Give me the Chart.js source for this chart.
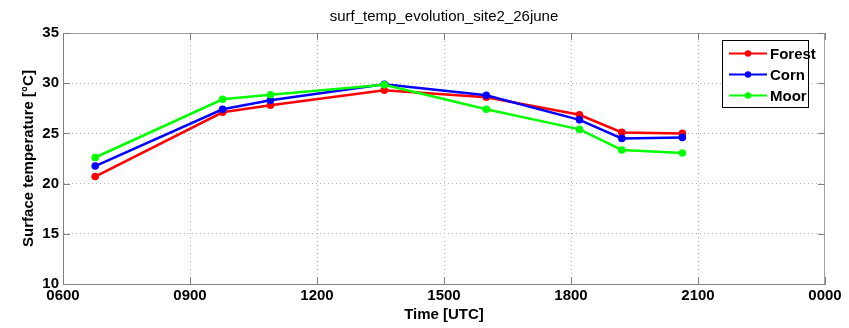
<!DOCTYPE html>
<html><head><meta charset="utf-8">
<script src="https://cdn.jsdelivr.net/npm/chart.js@4.4.1/dist/chart.umd.min.js"></script>
<style>html,body{margin:0;padding:0;background:#fff}#wrap{width:849px;height:328px}</style>
</head><body><div id="wrap"><canvas id="c" width="849" height="328"></canvas></div>
<script>
const chartTitle = 'surf_temp_evolution_site2_26june';
const xTitle = 'Time [UTC]';
const yTitle = 'Surface temperature [°C]';
const seriesNames = ['Forest', 'Corn', 'Moor'];
const seriesColors = ['#ff0000', '#0000ff', '#00ff00'];
const times = [6.76, 9.77, 10.9, 13.59, 16.0, 18.2, 19.2, 20.63];
const forest = [20.7, 27.1, 27.8, 29.3, 28.6, 26.85, 25.1, 25.0];
const corn = [21.75, 27.4, 28.3, 29.9, 28.8, 26.35, 24.5, 24.6];
const moor = [22.6, 28.4, 28.85, 29.85, 27.4, 25.4, 23.35, 23.05];
const xTicks = [6, 9, 12, 15, 18, 21, 24];
const yTicks = [10, 15, 20, 25, 30, 35];

const FONT = 'Arial, "Liberation Sans", sans-serif';
const allSeries = [forest, corn, moor];

function mk(i) {
  return {
    label: seriesNames[i],
    data: times.map((t, k) => ({x: t, y: allSeries[i][k]})),
    borderColor: seriesColors[i],
    backgroundColor: seriesColors[i],
    borderWidth: 2.5,
    pointRadius: 3.8,
    pointBorderWidth: 0,
    pointHoverRadius: 3.8,
    order: 3 - i,
    tension: 0
  };
}

const deco = {
  id: 'deco',
  afterDraw(chart) {
    const {ctx, chartArea: a, scales} = chart;
    ctx.save();
    ctx.strokeStyle = '#a0a0a0';
    ctx.lineWidth = 1;
    ctx.beginPath();
    ctx.moveTo(a.left, a.top + 0.5); ctx.lineTo(a.right, a.top + 0.5);
    ctx.moveTo(a.right - 0.5, a.top); ctx.lineTo(a.right - 0.5, a.bottom);
    ctx.stroke();
    ctx.strokeStyle = '#808080';
    ctx.beginPath();
    yTicks.forEach(v => {
      const y = Math.round(scales.y.getPixelForValue(v)) + 0.5;
      ctx.moveTo(a.left, y); ctx.lineTo(a.left + 7, y);
      ctx.moveTo(a.right, y); ctx.lineTo(a.right - 7, y);
    });
    xTicks.forEach(v => {
      const x = Math.round(scales.x.getPixelForValue(v)) + 0.5;
      ctx.moveTo(x, a.bottom); ctx.lineTo(x, a.bottom - 7);
      ctx.moveTo(x, a.top); ctx.lineTo(x, a.top + 7);
    });
    ctx.stroke();
    ctx.fillStyle = '#000';
    ctx.font = '15px ' + FONT;
    ctx.textAlign = 'center';
    ctx.textBaseline = 'middle';
    ctx.fillText(chartTitle, (a.left + a.right) / 2, 17);
    const lx = 722, ly = 40, lw = 86, lh = 67;
    ctx.fillStyle = '#fff';
    ctx.fillRect(lx, ly, lw, lh);
    ctx.strokeStyle = '#000';
    ctx.lineWidth = 1;
    ctx.strokeRect(lx + 0.5, ly + 0.5, lw, lh);
    ctx.font = 'bold 15px ' + FONT;
    ctx.textAlign = 'left';
    chart.data.datasets.forEach((ds, i) => {
      const y = ly + 13.5 + i * 21;
      ctx.strokeStyle = ds.borderColor;
      ctx.lineWidth = 2;
      ctx.beginPath(); ctx.moveTo(lx + 7, y); ctx.lineTo(lx + 45, y); ctx.stroke();
      ctx.fillStyle = ds.borderColor;
      ctx.beginPath(); ctx.arc(lx + 26, y, 3.2, 0, Math.PI * 2); ctx.fill();
      ctx.fillStyle = '#000';
      ctx.fillText(ds.label, lx + 48, y + 1);
    });
    ctx.restore();
  }
};

new Chart(document.getElementById('c'), {
  type: 'line',
  data: {datasets: [mk(0), mk(1), mk(2)]},
  plugins: [deco],
  options: {
    responsive: false,
    animation: false,
    layout: {padding: {top: 33, right: 24, left: 0, bottom: 0}},
    plugins: {legend: {display: false}, title: {display: false}, tooltip: {enabled: false}},
    scales: {
      x: {
        type: 'linear', min: 6, max: 24,
        afterBuildTicks: s => { s.ticks = xTicks.map(v => ({value: v})); },
        afterFit: s => { s.height = 44; },
        ticks: {
          color: '#000', padding: 3, maxRotation: 0, autoSkip: false,
          font: {family: FONT, size: 15, weight: 'bold'},
          callback: v => String((v % 24) * 100).padStart(4, '0')
        },
        grid: {
          color: c => (c.tick && (c.tick.value === 6 || c.tick.value === 24)) ? 'rgba(0,0,0,0)' : '#b4b4b4',
          drawTicks: false, lineWidth: 1
        },
        border: {display: true, color: '#808080', dash: [1, 3], width: 1},
        title: {display: true, text: xTitle, color: '#000', padding: {top: 0, bottom: 4},
          font: {family: FONT, size: 15, weight: 'bold'}}
      },
      y: {
        min: 10, max: 35,
        afterBuildTicks: s => { s.ticks = yTicks.map(v => ({value: v})); },
        afterFit: s => { s.width = 63; },
        ticks: {color: '#000', padding: 4, font: {family: FONT, size: 15, weight: 'bold'}},
        grid: {
          color: c => (c.tick && (c.tick.value === 10 || c.tick.value === 35)) ? 'rgba(0,0,0,0)' : '#b4b4b4',
          drawTicks: false, lineWidth: 1
        },
        border: {display: true, color: '#808080', dash: [1, 3], width: 1},
        title: {display: true, text: yTitle, color: '#000', padding: {top: 20, bottom: 0},
          font: {family: FONT, size: 15, weight: 'bold'}}
      }
    }
  }
});
</script></body></html>
